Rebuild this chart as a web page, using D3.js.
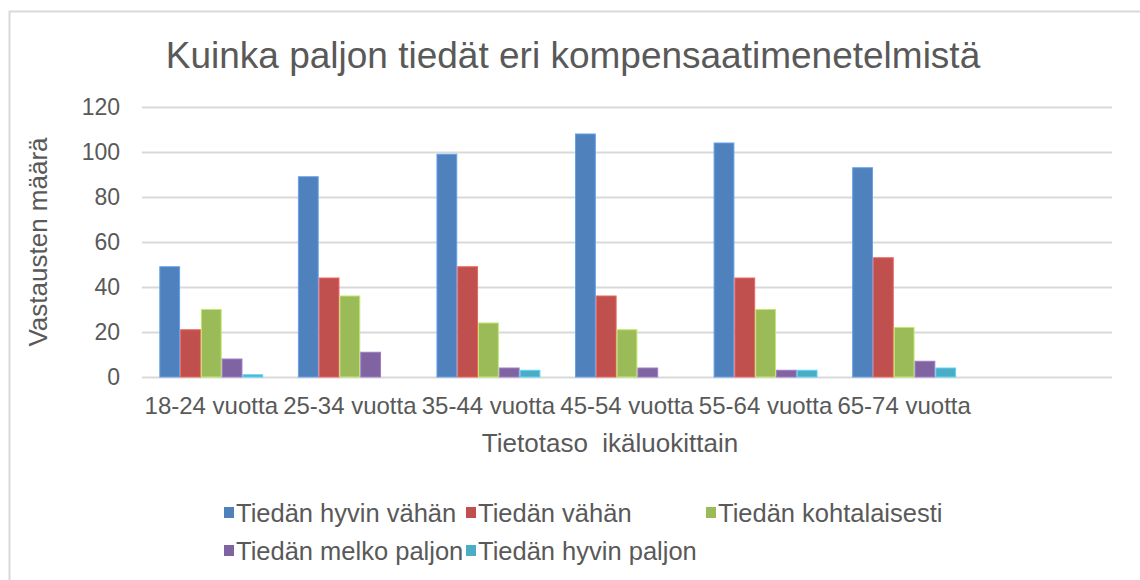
<!DOCTYPE html>
<html>
<head>
<meta charset="utf-8">
<script src="https://cdn.jsdelivr.net/npm/d3@7"></script>
<style>
  body { margin: 0; background: #fff; }
  text { font-family: "Liberation Sans", Arial, sans-serif; fill: #595959; }
</style>
</head>
<body>
<div id="chart"></div>
<script>
// categories (last one is empty in the original chart)
var categories = ["18-24 vuotta", "25-34 vuotta", "35-44 vuotta", "45-54 vuotta", "55-64 vuotta", "65-74 vuotta", ""];
var seriesNames = ["Tiedän hyvin vähän", "Tiedän vähän", "Tiedän kohtalaisesti", "Tiedän melko paljon", "Tiedän hyvin paljon"];
var seriesColors = ["#4F81BD", "#C0504D", "#9BBB59", "#8064A2", "#4BACC6"];

// values per series, one per age group
var hyvinVahan    = [49, 89, 99, 108, 104, 93];
var vahan         = [21, 44, 49, 36, 44, 53];
var kohtalaisesti = [30, 36, 24, 21, 30, 22];
var melkoPaljon   = [8, 11, 4, 4, 3, 7];
var hyvinPaljon   = [1, 0, 3, 0, 3, 4];

var yTicks = [0, 20, 40, 60, 80, 100, 120];

var allSeries = [hyvinVahan, vahan, kohtalaisesti, melkoPaljon, hyvinPaljon];

var W = 1140, H = 580;
var margin = {top: 107, right: 28, bottom: 203, left: 142},
    width = W - margin.left - margin.right,
    height = H - margin.top - margin.bottom;

var svg = d3.select("#chart")
    .append("svg")
    .attr("width", W)
    .attr("height", H);

// outer chart border (runs off the right / bottom of the picture)
svg.append("rect")
    .attr("x", 9.5).attr("y", 11.5)
    .attr("width", W + 20).attr("height", H + 20)
    .attr("fill", "none")
    .attr("stroke", "#d9d9d9")
    .attr("stroke-width", 2);

// title
svg.append("text")
    .attr("x", 573)
    .attr("y", 68)
    .attr("text-anchor", "middle")
    .style("font-size", "37px")
    .text("Kuinka paljon tiedät eri kompensaatimenetelmistä");

var g = svg.append("g")
    .attr("transform", "translate(" + margin.left + "," + margin.top + ")");

var y = d3.scaleLinear()
    .domain([0, 120])
    .range([height, 0]);

var x0 = d3.scaleBand()
    .domain(categories.map(function(d, i) { return i; }))
    .range([0, width])
    .paddingInner(0.25)
    .paddingOuter(0.125);

var x1 = d3.scaleBand()
    .domain(seriesNames)
    .range([0, x0.bandwidth()]);

// gridlines + y labels
var yAxis = g.append("g")
    .call(d3.axisLeft(y).tickValues(yTicks).tickSize(-width).tickPadding(22));
yAxis.select(".domain").remove();
yAxis.selectAll(".tick line")
    .attr("stroke", "#d9d9d9")
    .attr("stroke-width", 2);
yAxis.selectAll(".tick text")
    .style("font-size", "23px")
    .style("font-family", "'Liberation Sans', Arial, sans-serif")
    .attr("fill", "#595959");

// bars
seriesNames.forEach(function(name, si) {
    var vals = allSeries[si];
    g.selectAll(".bar-" + si)
        .data(vals)
        .enter()
        .append("rect")
        .attr("class", "bar-" + si)
        .attr("x", function(d, i) { return x0(i) + x1(name) + 0.5; })
        .attr("y", function(d) { return y(d); })
        .attr("width", x1.bandwidth() - 1)
        .attr("height", function(d) { return height - y(d); })
        .attr("fill", seriesColors[si])
        .attr("stroke", d3.color(seriesColors[si]).brighter(0.6))
        .attr("stroke-width", d => d > 0 ? 1 : 0);
});

// category labels
g.selectAll(".cat")
    .data(categories)
    .enter()
    .append("text")
    .attr("class", "cat")
    .attr("x", function(d, i) { return x0(i) + x0.bandwidth() / 2; })
    .attr("y", height + 37)
    .attr("text-anchor", "middle")
    .style("font-size", "24px")
    .text(function(d) { return d; });

// axis titles
svg.append("text")
    .attr("x", 610)
    .attr("y", 452)
    .attr("text-anchor", "middle")
    .style("font-size", "26px")
    .style("white-space", "pre")
    .text("Tietotaso  ikäluokittain");

svg.append("text")
    .attr("transform", "translate(47," + (margin.top + height / 2) + ") rotate(-90)")
    .attr("text-anchor", "middle")
    .style("font-size", "26px")
    .text("Vastausten määrä");

// legend
var legendCols = [224, 466, 706];
var legendRows = [513, 551];
var legend = svg.selectAll(".legend")
    .data(seriesNames)
    .enter()
    .append("g")
    .attr("class", "legend")
    .attr("transform", function(d, i) {
        return "translate(" + legendCols[i % 3] + "," + legendRows[Math.floor(i / 3)] + ")";
    });
legend.append("rect")
    .attr("x", 0).attr("y", -6)
    .attr("width", 10).attr("height", 11)
    .attr("fill", function(d, i) { return seriesColors[i]; });
legend.append("text")
    .attr("x", 12)
    .attr("y", 9)
    .style("font-size", "25.5px")
    .text(function(d) { return d; });
</script>
</body>
</html>
